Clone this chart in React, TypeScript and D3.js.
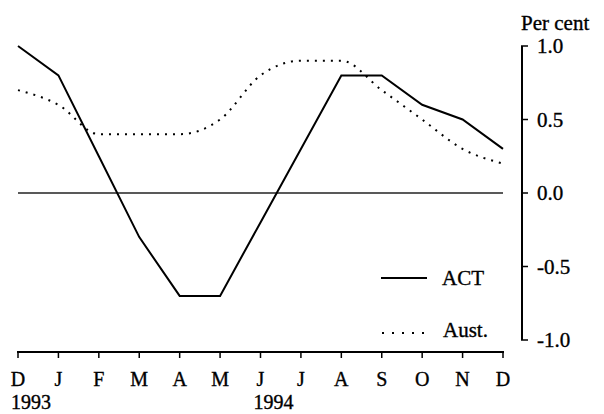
import React from 'react';
import * as d3 from 'd3';

// months Dec 1993 .. Dec 1994
const months = ['D', 'J', 'F', 'M', 'A', 'M', 'J', 'J', 'A', 'S', 'O', 'N', 'D'];
const years = [
  { label: '1993', at: 0 },
  { label: '1994', at: 6 },
];
const actValues = [1.0, 0.8, 0.25, -0.3, -0.7, -0.7, -0.2, 0.3, 0.8, 0.8, 0.6, 0.5, 0.3];
const austValues = [0.7, 0.6, 0.4, 0.4, 0.4, 0.5, 0.8, 0.9, 0.9, 0.7, 0.5, 0.3, 0.2];
const yTicks = [1.0, 0.5, 0.0, -0.5, -1.0];

const width = 604;
const height = 414;
const font = '"Liberation Serif", "Times New Roman", serif';

const App: React.FC = () => {
  const x = d3.scaleLinear().domain([0, months.length - 1]).range([18, 503]);
  const y = d3.scaleLinear().domain([-1, 1]).range([340, 46]);
  const axisX = 522;
  const baseY = 352;

  const actLine = d3.line<number>()
    .x((_, i) => x(i))
    .y(d => y(d));

  const austLine = d3.line<number>()
    .x((_, i) => x(i))
    .y(d => y(d))
    .curve(d3.curveMonotoneX);

  // tick labels keep a plain hyphen, as in the print
  const fmt = (v: number) => v.toFixed(1);

  return (
    <svg
      width={width}
      height={height}
      style={{ position: 'absolute', left: 0, top: 0, background: '#fff' }}
      fontFamily={font}
      fontSize={21}
    >
      {/* zero line */}
      <line x1={x(0)} x2={x(12)} y1={y(0)} y2={y(0)} stroke="#222" strokeWidth={1.5} />

      {/* series */}
      <path d={austLine(austValues) || ''} fill="none" stroke="#000" strokeWidth={2}
        strokeDasharray="2,6" />
      <path d={actLine(actValues) || ''} fill="none" stroke="#000" strokeWidth={2} />

      <g stroke="#000" strokeWidth={0.35}>
        {/* bottom axis */}
        <line x1={x(0) - 1} x2={x(12) + 1} y1={baseY} y2={baseY} strokeWidth={2} />
        {months.map((m, i) => (
          <g key={i}>
            <line x1={x(i)} x2={x(i)} y1={baseY} y2={baseY + 6} strokeWidth={1.5} />
            <text x={x(i)} y={386} textAnchor="middle" fontSize={20}>{m}</text>
          </g>
        ))}
        {years.map(yr => (
          <text key={yr.label} x={x(yr.at) - 7} y={409} fontSize={20}>{yr.label}</text>
        ))}

        {/* right axis */}
        <line x1={axisX} x2={axisX} y1={y(1)} y2={y(-1)} strokeWidth={2} />
        {yTicks.map(t => (
          <g key={t}>
            <line x1={axisX - 1} x2={axisX + 6} y1={y(t)} y2={y(t)} strokeWidth={1.5} />
            <text x={537} y={y(t) + 7}>{fmt(t)}</text>
          </g>
        ))}
        <text x={521} y={30}>Per cent</text>

        {/* legend */}
        <line x1={381} x2={427} y1={278} y2={278} strokeWidth={2} />
        <text x={442} y={285}>ACT</text>
        <line x1={382} x2={426} y1={333} y2={333} strokeWidth={2} strokeDasharray="2,8" />
        <text x={443} y={337}>Aust.</text>
      </g>
    </svg>
  );
};

export default App;
